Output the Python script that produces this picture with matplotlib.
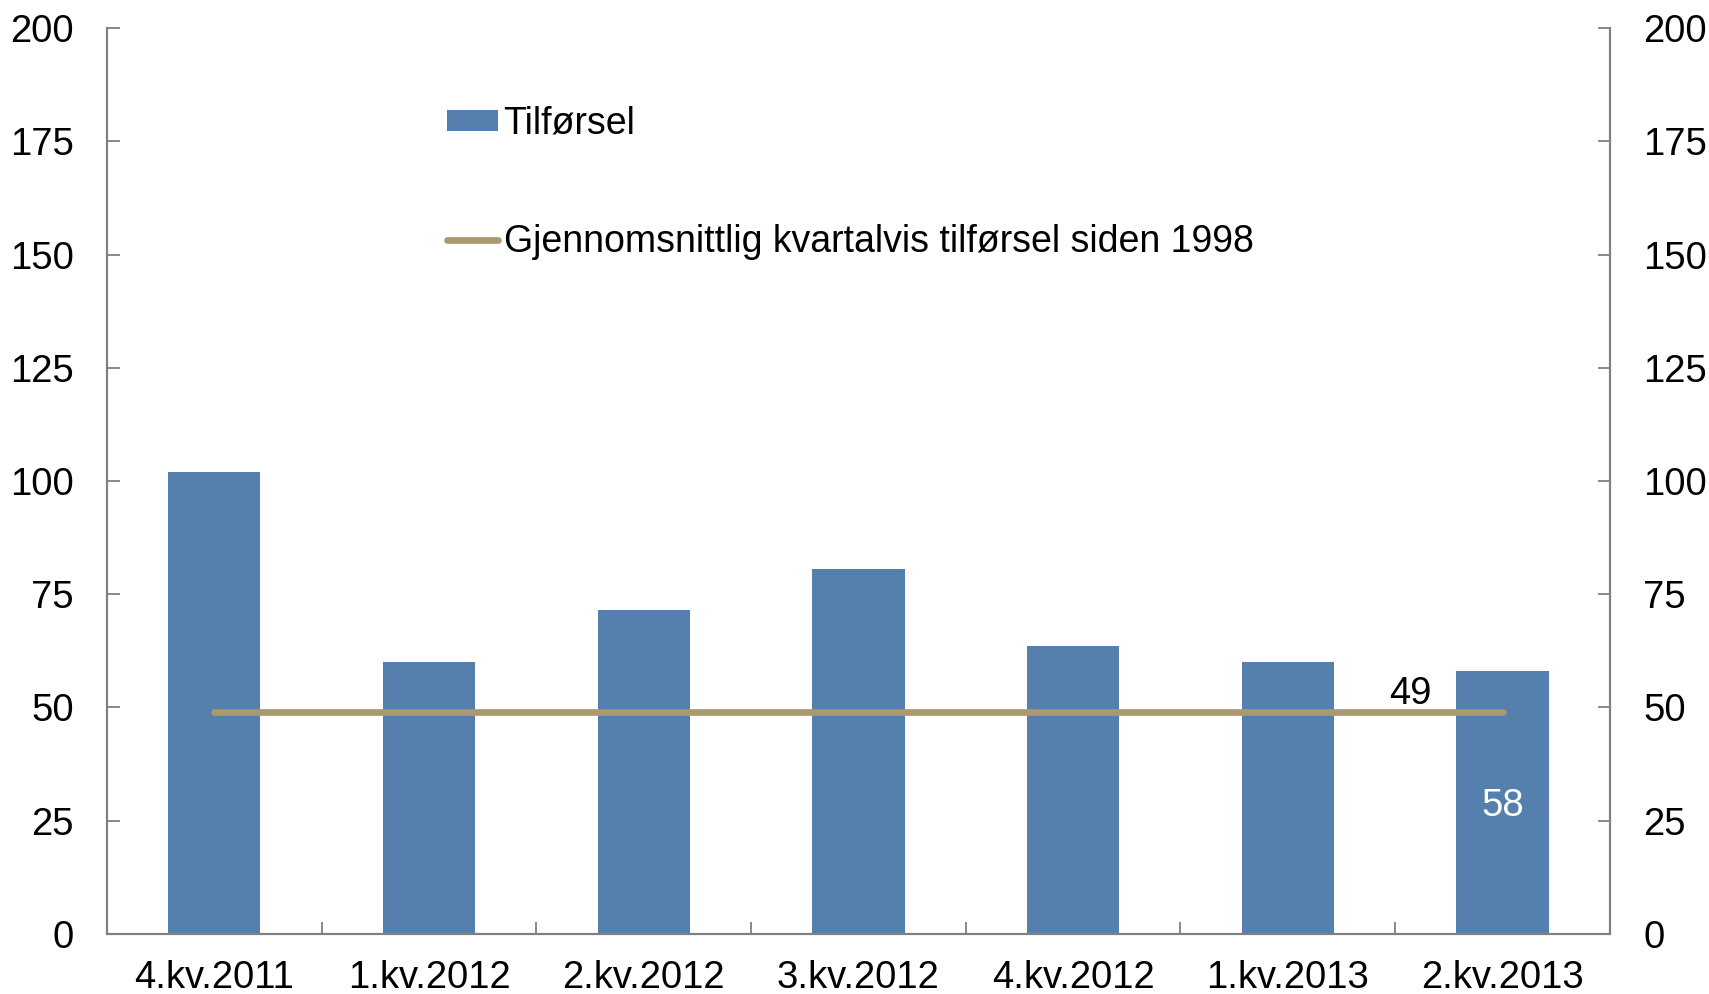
import matplotlib.pyplot as plt
from matplotlib.ticker import FixedLocator

plt.rcParams['font.family'] = ['Liberation Sans', 'DejaVu Sans']

# Data
quarters = ['4.kv.2011', '1.kv.2012', '2.kv.2012', '3.kv.2012', '4.kv.2012', '1.kv.2013', '2.kv.2013']
tilforsel = [102, 60, 71.5, 80.5, 63.5, 60, 58]
average_since_1998 = [49, 49, 49, 49, 49, 49, 49]
y_ticks = [0, 25, 50, 75, 100, 125, 150, 175, 200]

bar_color = '#5580AD'
line_color = '#A89A6E'
spine_color = '#808080'
fs = 27.5
leg_fs = 27

fig = plt.figure(figsize=(17.09, 9.94), dpi=100)
ax = fig.add_axes([0.0626, 0.0604, 0.8794, 0.9114])

x = list(range(len(quarters)))
bars = ax.bar(x, tilforsel, width=0.43, color=bar_color, label='Tilførsel', zorder=2)
line, = ax.plot(x, average_since_1998, color=line_color, lw=4.8, solid_capstyle='round',
                label='Gjennomsnittlig kvartalvis tilførsel siden 1998', zorder=3)

ax.text(5.57, 53, '49', fontsize=fs, ha='center', va='center', color='black', zorder=4)
ax.text(6.0, 28.3, '58', fontsize=fs, ha='center', va='center', color='white', zorder=4)

ax.set_xlim(-0.5, len(quarters) - 0.5)
ax.set_ylim(0, 200)
ax.set_yticks(y_ticks)
ax.set_xticks(x)
ax.set_xticklabels(quarters, fontsize=fs)
ax.xaxis.set_minor_locator(FixedLocator([i + 0.5 for i in range(len(quarters) - 1)]))
ax.tick_params(axis='x', which='major', length=0, pad=19)
ax.tick_params(axis='x', which='minor', direction='in', length=9, width=1.3, color=spine_color)
ax.tick_params(axis='y', direction='in', length=9, width=1.3, color=spine_color, labelsize=fs, pad=24)

ax2 = ax.twinx()
ax2.set_ylim(0, 200)
ax2.set_yticks(y_ticks)
ax2.tick_params(axis='y', direction='in', length=9, width=1.3, color=spine_color, labelsize=fs, pad=24)

for a in (ax, ax2):
    a.spines['top'].set_visible(False)
    for s in ('left', 'right', 'bottom'):
        a.spines[s].set_color(spine_color)
        a.spines[s].set_linewidth(1.5)

ax.legend([bars, line], [bars.get_label(), line.get_label()],
          loc='upper left', bbox_to_anchor=(0.2165, 0.931), frameon=False, fontsize=leg_fs,
          handlelength=1.35, handleheight=0.5, handletextpad=0.15, labelspacing=2.21,
          borderaxespad=0)

fig.savefig('out.png', dpi=100)
